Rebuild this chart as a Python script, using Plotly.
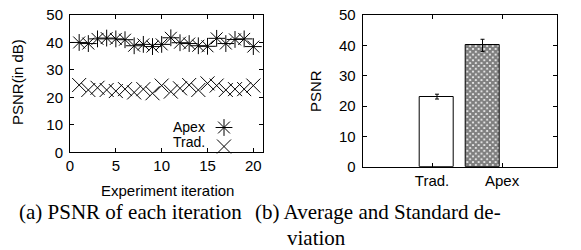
import plotly.graph_objects as go

# ---- data ----
iterations = list(range(1, 21))
apex_psnr = [40.0, 39.6, 41.3, 41.6, 41.3, 41.0, 38.8, 39.3, 38.5, 39.3,
             41.7, 39.9, 39.6, 38.8, 38.6, 41.5, 39.6, 41.1, 41.3, 38.5]
trad_psnr = [24.5, 22.7, 23.5, 22.7, 22.3, 23.0, 21.8, 23.0, 21.5, 24.3,
             22.1, 23.3, 24.5, 22.7, 25.1, 24.3, 22.7, 23.0, 23.0, 24.3]
bar_labels = ["Trad.", "Apex"]
bar_means = [23.1, 40.0]
bar_std = [0.8, 2.0]
x_ticks = [0, 5, 10, 15, 20]
y_ticks = [0, 10, 20, 30, 40, 50]

W, H = 581, 250
def px(x):
    return x / W
def py(y):
    return 1 - y / H

FONT = "Liberation Sans, Arial, sans-serif"
SERIF = "Liberation Serif, Times New Roman, serif"
FS = 15

fig = go.Figure()

fig.add_trace(go.Scatter(
    x=iterations, y=apex_psnr, mode="markers", name=" ",
    marker=dict(symbol="asterisk-open", size=14, color="black",
                line=dict(color="black", width=1)),
    xaxis="x", yaxis="y", showlegend=True, legendrank=1))
fig.add_trace(go.Scatter(
    x=iterations, y=trad_psnr, mode="markers", name="  ",
    marker=dict(symbol="x-thin-open", size=14, color="black",
                line=dict(color="black", width=1)),
    xaxis="x", yaxis="y", showlegend=True, legendrank=2))

fig.add_trace(go.Bar(
    x=bar_labels, y=bar_means,
    error_y=dict(type="data", array=bar_std, color="black", thickness=1, width=2),
    width=0.486, offset=[-0.172, -0.522],
    marker=dict(color="white", line=dict(color="black", width=1),
                pattern=dict(shape=["", "x"], fgcolor="black", bgcolor="white",
                             size=4, solidity=0.8, fillmode="overlay")),
    xaxis="x2", yaxis="y2", showlegend=False))

axis_common = dict(showline=True, linecolor="black", linewidth=1, mirror="ticks",
                   ticks="inside", ticklen=4, tickcolor="black", tickwidth=1,
                   showgrid=False, zeroline=False, automargin=False,
                   ticklabeloverflow="allow",
                   tickfont=dict(family=FONT, size=FS, color="black"))

fig.update_layout(
    template="none",
    width=W, height=H, margin=dict(l=0, r=0, t=0, b=0, pad=0),
    paper_bgcolor="white", plot_bgcolor="white",
    xaxis=dict(domain=[px(70), px(262.5)], range=[0, 21], tickvals=x_ticks,
               anchor="y", **axis_common),
    yaxis=dict(domain=[py(152.3), py(15)], range=[0, 50], tickvals=y_ticks,
               anchor="x", ticklabelstandoff=3, **axis_common),
    xaxis2=dict(domain=[px(362.7), px(556.7)], range=[-0.99, 1.78], type="category",
                anchor="y2", **axis_common),
    yaxis2=dict(domain=[py(166.7), py(15)], range=[0, 50], tickvals=y_ticks,
                anchor="x2", ticklabelstandoff=3, **axis_common),
    legend=dict(x=px(204), y=py(113), xanchor="left", yanchor="top",
                bgcolor="rgba(0,0,0,0)", font=dict(family=FONT, size=8),
                tracegroupgap=0, itemwidth=30, borderwidth=0),
    bargap=0,
    hovermode=False,
)

ann = [
    dict(text="PSNR(in dB)", x=px(17), y=py(82), textangle=-90, size=FS),
    dict(text="Experiment iteration", x=px(167), y=py(190), size=FS),
    dict(text="PSNR", x=px(315), y=py(91), textangle=-90, size=FS),
    dict(text="Apex", x=px(207), y=py(127), xanchor="right", size=14),
    dict(text="Trad.", x=px(207), y=py(142), xanchor="right", size=14),
]
for a in ann:
    fig.add_annotation(xref="paper", yref="paper", showarrow=False,
                       font=dict(family=FONT, color="black", size=a.pop("size")),
                       xanchor=a.pop("xanchor", "center"), yanchor="middle", **a)

caps = [
    dict(text="(a) PSNR of each iteration", x=px(17), y=py(212)),
    dict(text="(b) Average and Standard de-", x=px(253), y=py(212)),
    dict(text="viation", x=px(285), y=py(238)),
]
for c in caps:
    fig.add_annotation(xref="paper", yref="paper", showarrow=False, xanchor="left",
                       yanchor="middle", font=dict(family=SERIF, size=21, color="black"), **c)

fig.write_html("out.html", config={"displayModeBar": False},
               post_script="document.body.style.margin='0';document.body.style.overflow='hidden';")
